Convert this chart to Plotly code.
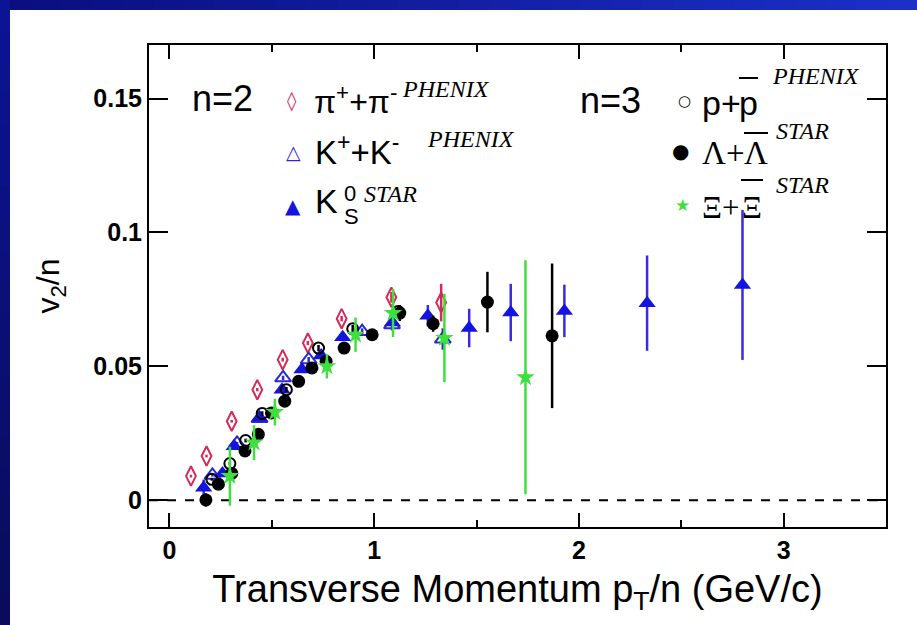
import plotly.graph_objects as go

# ---------------- data ----------------
pi_x = [0.105, 0.181, 0.304, 0.429, 0.553, 0.676, 0.841, 1.084, 1.327]
pi_y = [0.009, 0.0165, 0.0295, 0.0413, 0.0525, 0.0587, 0.0678, 0.0758, 0.0738]
pi_err = [0.0005, 0.0005, 0.0005, 0.0006, 0.0007, 0.0008, 0.001, 0.002, 0.007]

k_x = [0.210, 0.33, 0.44, 0.555, 0.680, 0.941, 1.087, 1.335]
k_y = [0.0093, 0.0212, 0.0305, 0.0457, 0.0525, 0.063, 0.0655, 0.0602]
k_err = [0.0005, 0.0006, 0.0007, 0.0008, 0.001, 0.0012, 0.002, 0.004]

k0s_x = [0.167, 0.259, 0.316, 0.440, 0.550, 0.647, 0.741, 0.846, 1.089,
         1.262, 1.464, 1.667, 1.929, 2.333, 2.799]
k0s_y = [0.0047, 0.010, 0.0202, 0.0308, 0.0413, 0.0488, 0.054, 0.0609, 0.0664,
         0.0689, 0.0643, 0.0701, 0.0707, 0.0736, 0.0804]
k0s_err = [0.003, 0.001, 0.001, 0.001, 0.001, 0.001, 0.0012, 0.0015, 0.003,
           0.004, 0.0072, 0.0107, 0.0098, 0.0178, 0.028]

p_x = [0.207, 0.295, 0.372, 0.453, 0.571, 0.728, 0.895, 1.117]
p_y = [0.0078, 0.0137, 0.0223, 0.0324, 0.0413, 0.0568, 0.064, 0.0705]
p_err = [0.0005, 0.0006, 0.0007, 0.0008, 0.001, 0.0012, 0.0015, 0.002]

lam_x = [0.178, 0.239, 0.304, 0.369, 0.434, 0.498, 0.563, 0.631, 0.696,
         0.765, 0.853, 0.990, 1.125, 1.288, 1.553, 1.869]
lam_y = [0.0001, 0.006, 0.010, 0.0184, 0.0246, 0.0326, 0.037, 0.0444, 0.0494,
         0.0519, 0.0568, 0.0618, 0.0699, 0.0659, 0.0740, 0.0614]
lam_err = [0.0025, 0.001, 0.001, 0.001, 0.001, 0.0015, 0.0012, 0.002, 0.0012,
           0.0015, 0.0012, 0.0012, 0.003, 0.003, 0.0113, 0.0270]

xi_x = [0.295, 0.413, 0.515, 0.769, 0.909, 1.092, 1.343, 1.739]
xi_y = [0.009, 0.0215, 0.0329, 0.050, 0.0618, 0.0699, 0.0606, 0.0459]
xi_err = [0.011, 0.0065, 0.005, 0.0045, 0.0064, 0.009, 0.0165, 0.0437]

x_ticks = [0, 1, 2, 3]
x_ticklabels = ["0", "1", "2", "3"]
y_ticks = [0, 0.05, 0.1, 0.15]
y_ticklabels = ["0", "0.05", "0.1", "0.15"]

# ---------------- styling ----------------
RED = "#d42a5a"
BLUE_OPEN = "#2a2ad0"
BLUE = "#1414e0"
BLUE_ERR = "#3a2ae0"
GREEN = "#3ee03e"
BLACK = "#000000"

W_FIG, H_FIG = 917, 625
L, R, T, B = 149, 886, 45, 527
PW, PH = R - L, B - T


def xp(px):
    return (px - L) / PW


def yp(py):
    return (B - py) / PH


fig = go.Figure()


def add_series(x, y, err, symbol, size, color, ecolor, lw=2):
    fig.add_trace(go.Scatter(
        x=x, y=y, mode="markers",
        error_y=dict(type="data", array=err, visible=True, color=ecolor,
                     thickness=2.5, width=0),
        marker=dict(symbol=symbol, size=size, color=color,
                    line=dict(color=color, width=lw)),
        showlegend=False, hoverinfo="x+y",
    ))


add_series(pi_x, pi_y, pi_err, "diamond-tall-open", 14, RED, RED)
add_series(k_x, k_y, k_err, "triangle-up-open", 14, BLUE_OPEN, BLUE_OPEN)
add_series(k0s_x, k0s_y, k0s_err, "triangle-up", 15, BLUE, BLUE_ERR, lw=0)
add_series(p_x, p_y, p_err, "circle-open", 11, BLACK, BLACK)
add_series(lam_x, lam_y, lam_err, "circle", 13, BLACK, BLACK, lw=0)
add_series(xi_x, xi_y, xi_err, "star", 14, GREEN, GREEN, lw=0)

shapes = []
# blue slide frame (top and left strips) with a simple gradient
N = 30
for i in range(N):
    t = i / (N - 1)
    r = int(10 + t * 18)
    g = int(14 + t * 34)
    b = int(128 + t * 72)
    shapes.append(dict(type="rect", xref="paper", yref="paper",
                       x0=xp(W_FIG * i / N), x1=xp(W_FIG * (i + 1) / N + 1),
                       y0=yp(10), y1=yp(0), fillcolor=f"rgb({r},{g},{b})",
                       line=dict(width=0), layer="below"))
M = 20
for i in range(M):
    t = i / (M - 1)
    r = int(12 - t * 2)
    g = int(20 - t * 8)
    b = int(150 - t * 60)
    shapes.append(dict(type="rect", xref="paper", yref="paper",
                       x0=xp(0), x1=xp(10),
                       y0=yp(H_FIG * (i + 1) / M + 1), y1=yp(H_FIG * i / M),
                       fillcolor=f"rgb({r},{g},{b})",
                       line=dict(width=0), layer="below"))

# dashed zero line
shapes.append(dict(type="line", xref="paper", yref="y", x0=0, x1=1, y0=0, y1=0,
                   line=dict(color="black", width=2, dash="dash"), layer="below"))

# overbars in legend labels
for (x0, x1, y) in [(739, 758, 78), (744, 768, 133), (741, 763, 180)]:
    shapes.append(dict(type="line", xref="paper", yref="paper",
                       x0=xp(x0), x1=xp(x1), y0=yp(y), y1=yp(y),
                       line=dict(color="black", width=2)))

SANS = "Liberation Sans, Arial, sans-serif"
SERIF = "Liberation Serif, Times New Roman, serif"

ann = []


def txt(text, px, py, size, family=SANS, color="black", xanchor="left"):
    ann.append(dict(text=text, x=xp(px), y=yp(py), xref="paper", yref="paper",
                    xanchor=xanchor, yanchor="middle", showarrow=False,
                    font=dict(size=size, family=family, color=color)))


SYM = "DejaVu Sans, sans-serif"
txt("n=2", 190, 98, 36)
txt("\u25CA", 292, 100, 19, SYM, RED, "center")
txt("\u03C0<sup>+</sup>+\u03C0<sup>-</sup>", 312, 100, 32)
txt("<i>PHENIX</i>", 400, 89, 24, SERIF)
txt("\u25B3", 293, 152, 19, SYM, BLUE_OPEN, "center")
txt("K<sup>+</sup>+K<sup>-</sup>", 313, 150, 33)
txt("<i>PHENIX</i>", 425, 139, 24, SERIF)
txt("\u25B2", 293, 206, 20, SYM, BLUE, "center")
txt("K", 313, 201, 34)
txt("0", 342, 193, 22)
txt("S", 342, 217, 22)
txt("<i>STAR</i>", 362, 194, 24, SERIF)

txt("n=3", 578, 100, 36)
txt("\u25CB", 684, 101, 15, SYM, BLACK, "center")
txt("p+", 700, 103, 34)
txt("p", 748, 103, 34, xanchor="center")
txt("<i>PHENIX</i>", 770, 76, 24, SERIF)
txt("\u25CF", 680, 151, 20, SYM, BLACK, "center")
txt("\u039B+", 700, 153, 33, SERIF)
txt("\u039B", 756, 153, 33, SERIF, xanchor="center")
txt("<i>STAR</i>", 774, 131, 24, SERIF)
txt("\u2605", 682, 205, 17, SYM, GREEN, "center")
txt("\u039E+", 700, 207, 31, SERIF)
txt("\u039E", 752, 207, 31, SERIF, xanchor="center")
txt("<i>STAR</i>", 774, 185, 24, SERIF)

axis_common = dict(showline=True, linecolor="black", linewidth=2,
                   mirror="ticks", ticks="inside", tickcolor="black",
                   tickwidth=2, showgrid=False, zeroline=False,
                   tickfont=dict(family=SANS, size=25, color="black", weight="bold"))

fig.update_layout(
    width=W_FIG, height=H_FIG,
    margin=dict(l=L, r=W_FIG - R, t=T, b=H_FIG - B, pad=0),
    paper_bgcolor="white", plot_bgcolor="white",
    shapes=shapes, annotations=ann,
    xaxis=dict(range=[-0.1, 3.5], tickvals=x_ticks, ticktext=x_ticklabels,
               ticklen=14,
               minor=dict(dtick=0.5, tick0=0, ticks="inside", ticklen=7,
                          tickwidth=2, tickcolor="black"),
               title=dict(text="Transverse Momentum p<sub>T</sub>/n (GeV/c)",
                          font=dict(family=SANS, size=38, color="black"),
                          standoff=12),
               **axis_common),
    yaxis=dict(range=[-0.01, 0.17], tickvals=y_ticks, ticktext=y_ticklabels,
               ticklen=19,
               title=dict(text="v<sub>2</sub>/n",
                          font=dict(family=SANS, size=32, color="black"),
                          standoff=24),
               **axis_common),
)

fig.write_html("out.html", config={"displayModeBar": False},
               post_script="document.body.style.margin='0';")
